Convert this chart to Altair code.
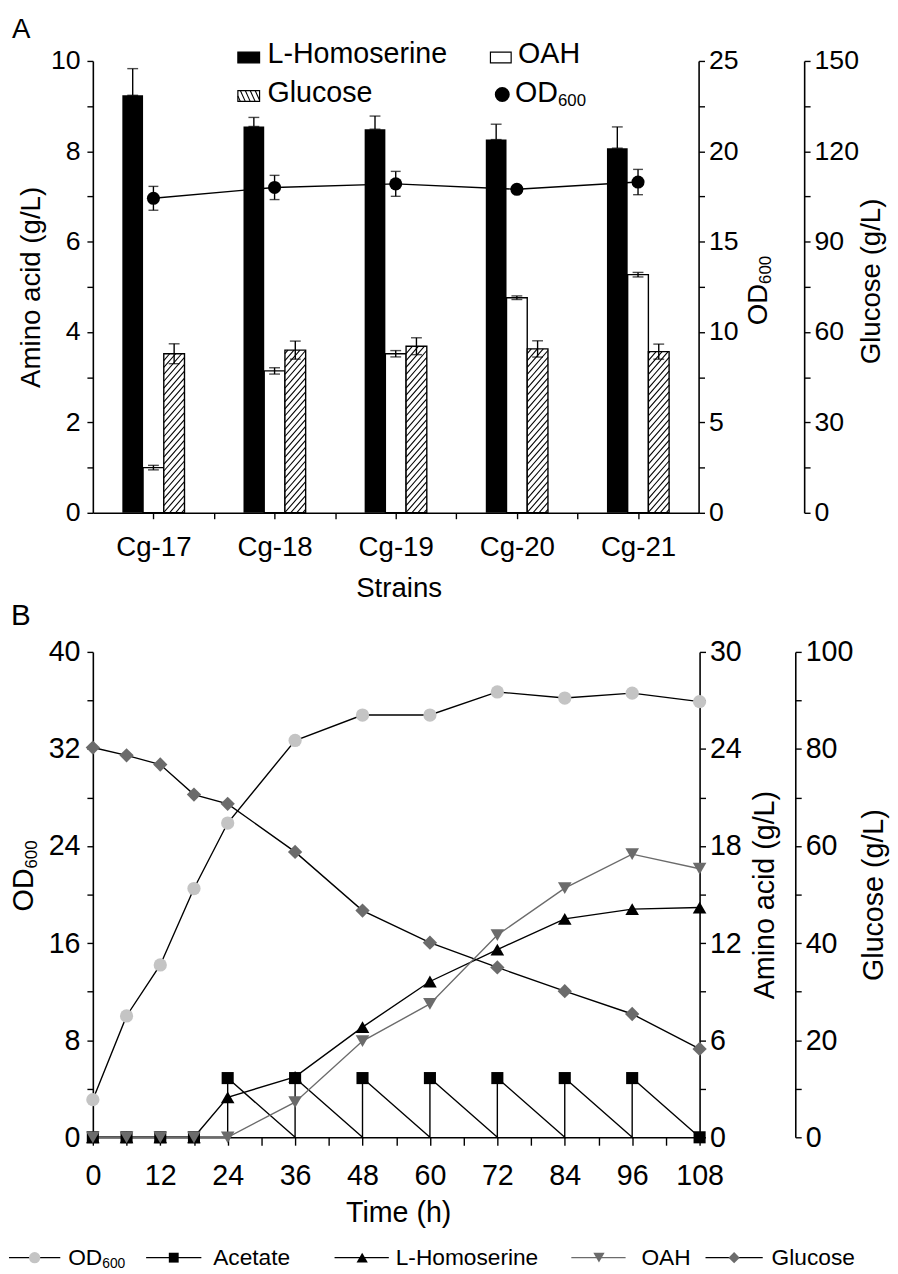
import altair as alt
import numpy as np
import pandas as pd

FONT = "Liberation Sans"

# ---------------- Panel A : strains ----------------
strains = ["Cg-17", "Cg-18", "Cg-19", "Cg-20", "Cg-21"]
hse_a = [9.24, 8.55, 8.49, 8.26, 8.07]
hse_a_err = [0.59, 0.20, 0.29, 0.34, 0.47]
oah_a = [1.00, 3.14, 3.52, 4.76, 5.27]
oah_a_err = [0.05, 0.07, 0.07, 0.04, 0.05]
glc_a = [52.8, 54.0, 55.3, 54.4, 53.5]
glc_a_err = [3.3, 3.0, 2.8, 2.7, 2.5]
od_a = [17.4, 18.0, 18.2, 17.9, 18.3]
od_a_err = [0.66, 0.67, 0.69, 0.20, 0.70]

# ---------------- Panel B : fed-batch time course ----------------
time_h = [0, 6, 12, 18, 24, 36, 48, 60, 72, 84, 96, 108]
od_b = [3.1, 10.0, 14.2, 20.5, 25.9, 32.7, 34.8, 34.8, 36.7, 36.2, 36.6, 35.9]
glc_b = [80.3, 78.7, 76.8, 70.6, 68.7, 58.8, 46.7, 40.1, 35.0, 30.1, 25.4, 18.2]
hse_b = [0, 0, 0, 0, 2.47, 3.74, 6.81, 9.63, 11.6, 13.5, 14.1, 14.2]
oah_b = [0, 0, 0, 0, 0, 2.17, 5.95, 8.24, 12.5, 15.4, 17.5, 16.6]
acetate_b = [0, 0, 0, 0, 3.66, 3.66, 3.66, 3.66, 3.66, 3.66, 3.66, 0]

# ---------------- layout constants ----------------
WA, HA = 614, 458
WB, HB = 615, 492
PXU = WA / 5.0
BAR_W = 21.0 / PXU
GLC_A_MAX = 150.0
GRAY_L = "#c4c4c4"
GRAY_D = "#6b6b6b"


def every(n):
    return f"abs(datum.value / {n} - round(datum.value / {n})) < 1e-6 ? datum.label : ''"


def hatch(w, h, slope, step):
    out = []
    c = -slope * w + step * 0.5
    while c < h:
        xs = max(0.0, -c / slope)
        xe = min(w, (h - c) / slope)
        if xe - xs > 0.2:
            out.append((xs, c + slope * xs, xe, c + slope * xe))
        c += step
    return out


def od_text(x, y, fs, rotated=False):
    main_w = 1.5 * fs
    sfs = round(fs * 0.6)
    if rotated:
        return [dict(px=x, py=y, t="OD", fs=fs, ang=270),
                dict(px=x + 0.28 * fs, py=y - main_w, t="600", fs=sfs, ang=270)]
    return [dict(px=x, py=y, t="OD", fs=fs, ang=0),
            dict(px=x + main_w, py=y + 0.28 * fs, t="600", fs=sfs, ang=0)]


def pix_text(df):
    return alt.Chart(df).mark_text(align="left", baseline="middle", font=FONT, color="black").encode(
        x=alt.X("px:Q", scale=None), y=alt.Y("py:Q", scale=None), text="t:N",
        size=alt.Size("fs:Q", scale=None), angle=alt.Angle("ang:Q", scale=None))


# ======================= PANEL A =======================
idx = np.arange(len(strains))
dfA = pd.DataFrame({"strain": strains, "i": idx,
                    "hse": hse_a, "hse_err": hse_a_err,
                    "oah": oah_a, "oah_err": oah_a_err,
                    "glc": glc_a, "glc_err": glc_a_err,
                    "od": od_a, "od_err": od_a_err})
dfA["zero"] = 0.0
dfA["hx0"] = idx - 1.5 * BAR_W
dfA["hx1"] = idx - 0.5 * BAR_W
dfA["hxc"] = idx - 1.0 * BAR_W
dfA["ox0"] = idx - 0.5 * BAR_W
dfA["ox1"] = idx + 0.5 * BAR_W
dfA["gx0"] = idx + 0.5 * BAR_W
dfA["gx1"] = idx + 1.5 * BAR_W
dfA["gxc"] = idx + 1.0 * BAR_W
for k in ["hse", "oah", "glc", "od"]:
    dfA[k + "_hi"] = dfA[k] + dfA[k + "_err"]
    dfA[k + "_lo"] = dfA[k] - dfA[k + "_err"]

rows = []
for _, r in dfA.iterrows():
    hpx = r["glc"] / GLC_A_MAX * HA
    for xs, ys, xe, ye in hatch(21.0, hpx, 1.15, 7.0):
        rows.append({"x0": r["gx0"] + xs / PXU, "x1": r["gx0"] + xe / PXU,
                     "y0": ys / HA * GLC_A_MAX, "y1": ye / HA * GLC_A_MAX})
dfHatch = pd.DataFrame(rows)

xA = alt.Scale(domain=[-0.5, 4.5], nice=False, zero=False)
yAL = alt.Scale(domain=[0, 10], nice=False)
yAO = alt.Scale(domain=[0, 25], nice=False)
yAG = alt.Scale(domain=[0, 150], nice=False)

names_js = "[" + ",".join(f"'{s}'" for s in strains) + "]"
axis_x_A = alt.Axis(values=[k * 0.5 for k in range(9)],
                    labelExpr=f"datum.value % 1 === 0 ? {names_js}[datum.value] : ''",
                    title="Strains", titleX=WA / 2 + 3, titleY=77, titleAlign="center",
                    titleBaseline="middle", titleFontSize=28, labelFontSize=28,
                    labelPadding=15, tickSize=6, orient="bottom")
axis_l_A = alt.Axis(values=list(range(11)), labelExpr=every(2), orient="left",
                    title="Amino acid (g/L)", titleX=-62, titleY=HA / 2, titleAngle=270,
                    titleAlign="center", titleBaseline="middle", titleFontSize=28,
                    labelFontSize=27, labelPadding=7, tickSize=6)
axis_od_A = alt.Axis(values=[k * 2.5 for k in range(11)], labelExpr=every(5), orient="right",
                     title=None, labelFontSize=27, labelPadding=4, tickSize=6)
axis_g_A = alt.Axis(values=[k * 15 for k in range(11)], labelExpr=every(30), orient="right",
                    offset=107, title="Glucose (g/L)", titleX=68, titleY=HA / 2 - 6,
                    titleAngle=270, titleAlign="center", titleBaseline="middle",
                    titleFontSize=28, labelFontSize=27, labelPadding=4, tickSize=6)

baseA = alt.Chart(dfA)


def errbar(base, xf, lo, hi, scale, width=11):
    rule = base.mark_rule(color="black", strokeWidth=1.4).encode(
        x=alt.X(f"{xf}:Q", scale=xA, axis=None),
        y=alt.Y(f"{lo}:Q", scale=scale, axis=None), y2=hi)
    caps = [base.mark_tick(color="black", orient="horizontal", size=width, thickness=1.4).encode(
        x=alt.X(f"{xf}:Q", scale=xA, axis=None), y=alt.Y(f"{f}:Q", scale=scale, axis=None))
        for f in (lo, hi)]
    return [rule] + caps


layersA = []
layersA.append(baseA.mark_rect(color="black").encode(
    x=alt.X("hx0:Q", scale=xA, axis=axis_x_A), x2="hx1",
    y=alt.Y("hse:Q", scale=yAL, axis=axis_l_A), y2="zero"))
layersA += errbar(baseA, "hxc", "hse", "hse_hi", yAL)
layersA.append(baseA.mark_rect(fill="white", stroke="black", strokeWidth=1.4).encode(
    x=alt.X("ox0:Q", scale=xA, axis=None), x2="ox1",
    y=alt.Y("oah:Q", scale=yAL, axis=None), y2="zero"))
layersA += errbar(baseA, "i", "oah_lo", "oah_hi", yAL)
layersA.append(baseA.mark_rect(fill="white").encode(
    x=alt.X("gx0:Q", scale=xA, axis=None), x2="gx1",
    y=alt.Y("glc:Q", scale=yAG, axis=axis_g_A), y2="zero"))
layersA.append(alt.Chart(dfHatch).mark_rule(color="black", strokeWidth=1.1).encode(
    x=alt.X("x0:Q", scale=xA, axis=None), x2="x1",
    y=alt.Y("y0:Q", scale=yAG, axis=None), y2="y1"))
layersA.append(baseA.mark_rect(fillOpacity=0, stroke="black", strokeWidth=1.4).encode(
    x=alt.X("gx0:Q", scale=xA, axis=None), x2="gx1",
    y=alt.Y("glc:Q", scale=yAG, axis=None), y2="zero"))
layersA += errbar(baseA, "gxc", "glc_lo", "glc_hi", yAG)
layersA.append(baseA.mark_line(color="black", strokeWidth=1.4).encode(
    x=alt.X("i:Q", scale=xA, axis=None),
    y=alt.Y("od:Q", scale=yAO, axis=axis_od_A)))
layersA += errbar(baseA, "i", "od_lo", "od_hi", yAO, width=10)
layersA.append(baseA.mark_point(filled=True, shape="circle", size=175, color="black", opacity=1).encode(
    x=alt.X("i:Q", scale=xA, axis=None),
    y=alt.Y("od:Q", scale=yAO, axis=None)))

# legend of panel A (pixel positions inside the plot frame)
legA_rect = pd.DataFrame({"x0": [147, 403, 147], "x1": [169, 424, 169],
                          "y0": [-9, -9, 30], "y1": [2, 2, 41],
                          "fill": ["black", "white", "white"]})
hrows = []
for xs, ys, xe, ye in hatch(22.0, 11.0, 2.2, 11.0):
    hrows.append({"x0": 169 - xs, "x1": 169 - xe, "y0": 41 - ys, "y1": 41 - ye})
legA_hatch = pd.DataFrame(hrows)
layersA.append(alt.Chart(legA_rect).mark_rect(stroke="black", strokeWidth=1.2).encode(
    x=alt.X("x0:Q", scale=None), x2="x1", y=alt.Y("y0:Q", scale=None), y2="y1",
    fill=alt.Fill("fill:N", scale=None)))
layersA.append(alt.Chart(legA_hatch).mark_rule(color="black", strokeWidth=1.1).encode(
    x=alt.X("x0:Q", scale=None), x2="x1", y=alt.Y("y0:Q", scale=None), y2="y1"))
layersA.append(alt.Chart(pd.DataFrame({"px": [415], "py": [34]})).mark_point(
    filled=True, shape="circle", size=230, color="black", opacity=1).encode(
    x=alt.X("px:Q", scale=None), y=alt.Y("py:Q", scale=None)))
textA = [dict(px=-82, py=-31, t="A", fs=28, ang=0),
         dict(px=177, py=-7, t="L-Homoserine", fs=29, ang=0),
         dict(px=431, py=-7, t="OAH", fs=29, ang=0),
         dict(px=177, py=33, t="Glucose", fs=29, ang=0)]
textA += od_text(428, 33, 29)
textA += od_text(675, 233 + 35, 28, rotated=True)
layersA.append(pix_text(pd.DataFrame(textA)))

panelA = alt.layer(*layersA).resolve_scale(x="independent", y="independent").properties(
    width=WA, height=HA)

# ======================= PANEL B =======================
dfB = pd.DataFrame({"t": time_h, "od": od_b, "glc": glc_b, "hse": hse_b,
                    "oah": oah_b, "ace": acetate_b})
ace_rows = [{"t": time_h[0], "v": acetate_b[0]}]
for k in range(1, len(time_h)):
    ace_rows.append({"t": time_h[k], "v": 0.0})
    ace_rows.append({"t": time_h[k], "v": acetate_b[k]})
dfAce = pd.DataFrame(ace_rows)
dfAce["ord"] = np.arange(len(dfAce))

xB = alt.Scale(domain=[0, 108], nice=False, zero=False)
yBO = alt.Scale(domain=[0, 40], nice=False)
yBA = alt.Scale(domain=[0, 30], nice=False)
yBG = alt.Scale(domain=[0, 100], nice=False)

axis_x_B = alt.Axis(values=list(range(0, 109, 6)), labelExpr=every(12), orient="bottom",
                    title="Time (h)", titleX=WB / 2 + 2, titleY=76, titleAlign="center",
                    titleBaseline="middle", titleFontSize=29, labelFontSize=29,
                    labelPadding=17, tickSize=8)
axis_l_B = alt.Axis(values=list(range(0, 41, 4)), labelExpr=every(8), orient="left",
                    title=None, labelFontSize=29, labelPadding=7, tickSize=6)
axis_a_B = alt.Axis(values=list(range(0, 31, 3)), labelExpr=every(6), orient="right",
                    title="Amino acid (g/L)", titleX=66, titleY=HB / 2, titleAngle=270,
                    titleAlign="center", titleBaseline="middle", titleFontSize=29,
                    labelFontSize=29, labelPadding=4, tickSize=6)
axis_g_B = alt.Axis(values=list(range(0, 101, 10)), labelExpr=every(20), orient="right",
                    offset=97, title="Glucose (g/L)", titleX=79, titleY=HB / 2,
                    titleAngle=270, titleAlign="center", titleBaseline="middle",
                    titleFontSize=29, labelFontSize=29, labelPadding=4, tickSize=6)

baseB = alt.Chart(dfB)
xT = alt.X("t:Q", scale=xB, axis=None)
layersB = [
    baseB.mark_line(color="black", strokeWidth=1.4).encode(
        x=alt.X("t:Q", scale=xB, axis=axis_x_B), y=alt.Y("od:Q", scale=yBO, axis=axis_l_B)),
    baseB.mark_line(color="black", strokeWidth=1.4).encode(
        x=xT, y=alt.Y("glc:Q", scale=yBG, axis=axis_g_B)),
    alt.Chart(dfAce).mark_line(color="black", strokeWidth=1.4).encode(
        x=xT, y=alt.Y("v:Q", scale=yBA, axis=axis_a_B), order="ord:Q"),
    baseB.mark_line(color="black", strokeWidth=1.4).encode(
        x=xT, y=alt.Y("hse:Q", scale=yBA, axis=None)),
    baseB.mark_line(color=GRAY_D, strokeWidth=1.4).encode(
        x=xT, y=alt.Y("oah:Q", scale=yBA, axis=None)),
    baseB.mark_point(filled=True, shape="square", size=150, color="black", opacity=1).encode(
        x=xT, y=alt.Y("ace:Q", scale=yBA, axis=None)),
    baseB.mark_point(filled=True, shape="triangle-up", size=190, color="black", opacity=1).encode(
        x=xT, y=alt.Y("hse:Q", scale=yBA, axis=None)),
    baseB.mark_point(filled=True, shape="triangle-down", size=190, color=GRAY_D, opacity=1).encode(
        x=xT, y=alt.Y("oah:Q", scale=yBA, axis=None)),
    baseB.mark_point(filled=True, shape="diamond", size=210, color=GRAY_D, opacity=1).encode(
        x=xT, y=alt.Y("glc:Q", scale=yBG, axis=None)),
    baseB.mark_point(filled=True, shape="circle", size=180, color=GRAY_L, opacity=1).encode(
        x=xT, y=alt.Y("od:Q", scale=yBO, axis=None)),
]

# bottom legend (pixel positions relative to the plot frame)
LEG_Y = 614
legB_lines = pd.DataFrame({"x0": [-85, 54, 245, 485, 621], "x1": [-33, 110, 300, 540, 679],
                           "py": [LEG_Y] * 5,
                           "col": ["black", "black", "black", GRAY_D, "black"]})
legB_pts = pd.DataFrame({"px": [-59, 82, 273, 513, 650], "py": [LEG_Y] * 5,
                         "shape": ["circle", "square", "triangle-up", "triangle-down", "diamond"],
                         "col": [GRAY_L, "black", "black", GRAY_D, GRAY_D],
                         "sz": [130, 100, 130, 130, 130]})
layersB.append(alt.Chart(legB_lines).mark_rule(strokeWidth=1.4).encode(
    x=alt.X("x0:Q", scale=None), x2="x1", y=alt.Y("py:Q", scale=None),
    color=alt.Color("col:N", scale=None)))
layersB.append(alt.Chart(legB_pts).mark_point(filled=True, opacity=1).encode(
    x=alt.X("px:Q", scale=None), y=alt.Y("py:Q", scale=None),
    shape=alt.Shape("shape:N", scale=None), color=alt.Color("col:N", scale=None),
    size=alt.Size("sz:Q", scale=None)))
textB = [dict(px=-83, py=-36, t="B", fs=30, ang=0),
         dict(px=122, py=LEG_Y, t="Acetate", fs=23, ang=0),
         dict(px=307, py=LEG_Y, t="L-Homoserine", fs=23, ang=0),
         dict(px=556, py=LEG_Y, t="OAH", fs=23, ang=0),
         dict(px=688, py=LEG_Y, t="Glucose", fs=23, ang=0)]
textB += od_text(-25, LEG_Y, 23)
textB += od_text(-70, 228 + 35, 29, rotated=True)
layersB.append(pix_text(pd.DataFrame(textB)))

panelB = alt.layer(*layersB).resolve_scale(x="independent", y="independent").properties(
    width=WB, height=HB)

chart = alt.vconcat(panelA, panelB, spacing=141, bounds="flush").properties(
    padding={"left": 0, "top": 0, "right": 2, "bottom": 2}, background="white"
).configure_view(stroke=None).configure_axis(
    grid=False, domainColor="black", tickColor="black", labelColor="black",
    titleColor="black", labelFont=FONT, titleFont=FONT, titleFontWeight="normal",
    domainWidth=1.6, tickWidth=1.4, labelFlush=False, labelOverlap=False)

chart.save("out.html", embed_options={"renderer": "svg", "actions": False})
